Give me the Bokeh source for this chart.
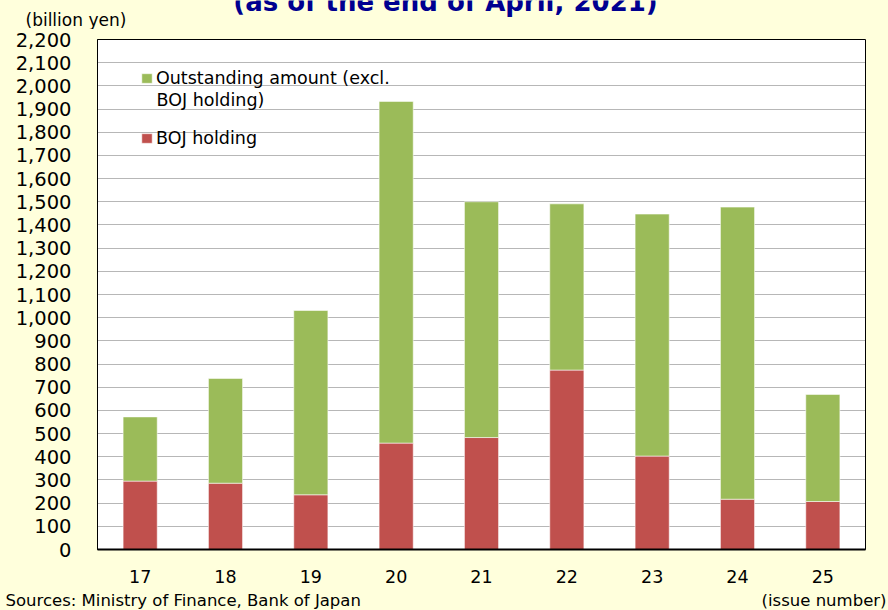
from bokeh.plotting import figure
from bokeh.layouts import column
from bokeh.models import (FactorRange, Range1d, SingleIntervalTicker, NumeralTickFormatter,
                          Label, Legend, LegendItem, ColumnDataSource, GlobalInlineStyleSheet)
from bokeh.embed import file_html
from bokeh.resources import INLINE

# ---- data (billion yen) ----
issues = ["17", "18", "19", "20", "21", "22", "23", "24", "25"]
boj_holding = [295, 286, 236, 459, 483, 774, 403, 217, 207]
outstanding_excl_boj = [277, 452, 795, 1474, 1017, 717, 1044, 1260, 462]

legend_line1 = "Outstanding amount (excl."
legend_line2 = "BOJ holding)"
legend_boj = "BOJ holding"
title_text = "(as of the end of April, 2021)"
y_unit_text = "(billion yen)"
x_unit_text = "(issue number)"
source_text = "Sources: Ministry of Finance, Bank of Japan"

BG = "#FFFFDC"
FONT = "DejaVu Sans"
RED = "#C0504D"
GREEN = "#9BBB59"
W = 888

HEADER_H = 29
MAIN_H = 561
FOOTER_H = 610 - HEADER_H - MAIN_H


def text_strip(height, top):
    """A frame-only figure whose ranges are page pixels, used for texts outside the chart."""
    f = figure(width=W, height=height, output_backend="svg", toolbar_location=None,
               x_range=Range1d(0, W), y_range=Range1d(top + height, top),
               x_axis_type=None, y_axis_type=None, frame_align=False,
               min_border_left=0, min_border_right=0, min_border_top=0, min_border_bottom=0,
               background_fill_color=BG, border_fill_color=BG, outline_line_color=None)
    f.grid.visible = False
    return f


# ---- header ----
header = text_strip(HEADER_H, 0)
header.add_layout(Label(x=445, y=1, text=title_text, text_font=FONT, text_font_style="bold",
                        text_font_size="26px", text_color="#000090",
                        text_align="center", text_baseline="middle"))
header.add_layout(Label(x=25, y=19, text=y_unit_text, text_font=FONT,
                        text_font_size="17px", text_color="black",
                        text_align="left", text_baseline="middle"))

# ---- main chart ----
p = figure(x_range=FactorRange(factors=issues, range_padding=0), y_range=Range1d(0, 2200),
           width=W, height=MAIN_H, output_backend="svg", toolbar_location=None,
           frame_align=False,
           min_border_left=97, min_border_right=23, min_border_top=10, min_border_bottom=41,
           background_fill_color="white", border_fill_color=BG,
           outline_line_color="black", outline_line_width=1)
p.stylesheets = [GlobalInlineStyleSheet(css="body { background-color: #FFFFDC; }")]

src = ColumnDataSource(dict(issue=issues, boj=boj_holding, excl=outstanding_excl_boj))
rs = p.vbar_stack(["boj", "excl"], x="issue", width=0.4, source=src,
                  fill_color=[RED, GREEN], line_color="white", line_alpha=0.55, line_width=1)

p.yaxis.ticker = SingleIntervalTicker(interval=100, num_minor_ticks=0)
p.yaxis.formatter = NumeralTickFormatter(format="0,0")
for ax in (p.xaxis, p.yaxis):
    ax.major_tick_out = 0
    ax.major_tick_in = 0
    ax.minor_tick_out = 0
    ax.minor_tick_in = 0
    ax.axis_line_color = "black"
    ax.major_label_text_font = FONT
    ax.major_label_text_color = "black"
p.xaxis.axis_line_width = 2
p.yaxis.major_label_standoff = 26
p.yaxis.major_label_text_font_size = "19.5px"
p.xaxis.major_label_standoff = 20
p.xaxis.major_label_text_font_size = "17.5px"

p.xgrid.visible = False
p.ygrid.grid_line_color = "#6E6E6E"
p.ygrid.grid_line_dash = "1 1"
p.ygrid.grid_line_width = 1

legend = Legend(items=[LegendItem(label=legend_line1, renderers=[rs[1]]),
                       LegendItem(label=legend_boj, renderers=[rs[0]])],
                location=(43, 401), glyph_width=13, glyph_height=12,
                label_text_font=FONT, label_text_font_size="17.5px", label_text_color="black",
                background_fill_alpha=0, border_line_alpha=0, padding=0, margin=0,
                spacing=40, label_standoff=3)
p.add_layout(legend)
# second line of the green series' legend label (screen units: from frame left / bottom)
p.add_layout(Label(x=59, y=449.5, x_units="screen", y_units="screen", text=legend_line2,
                   text_font=FONT, text_font_size="17.5px", text_color="black",
                   text_align="left", text_baseline="middle"))

# ---- footer ----
footer = text_strip(FOOTER_H, HEADER_H + MAIN_H)
footer.add_layout(Label(x=5, y=600, text=source_text, text_font=FONT, text_font_size="16.5px",
                        text_color="black", text_align="left", text_baseline="middle"))
footer.add_layout(Label(x=886, y=599.5, text=x_unit_text, text_font=FONT, text_font_size="16.5px",
                        text_color="black", text_align="right", text_baseline="middle"))

layout = column(header, p, footer, spacing=0)
open("out.html", "w").write(file_html(layout, INLINE))
